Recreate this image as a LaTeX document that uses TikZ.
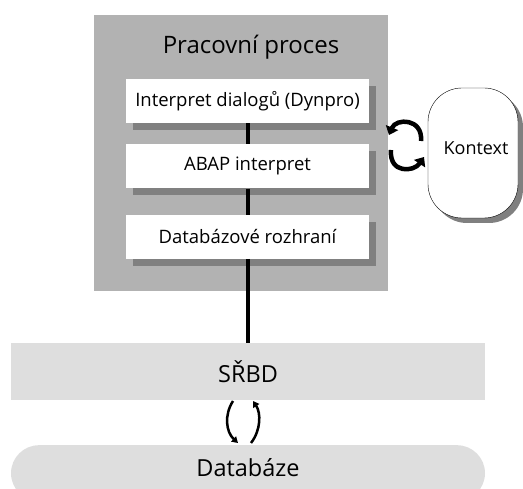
\documentclass[tikz,border=0pt]{standalone}
\usepackage{fontspec}
\setmainfont{Open Sans}
\usetikzlibrary{positioning,arrows.meta,shadows}
\definecolor{procgray}{HTML}{B2B2B2}
\definecolor{shadegray}{HTML}{808080}
\definecolor{bandgray}{HTML}{DEDEDE}

\begin{document}
\begin{tikzpicture}[x=1pt, y=-1pt,
    box/.style = {fill=white, minimum width=243pt, minimum height=44pt, font=\fontsize{18.5}{21}\selectfont,
                  general shadow={fill=shadegray, shadow xshift=7pt, shadow yshift=-7pt}},
    band/.style = {fill=bandgray, minimum width=474pt, font=\fontsize{23.5}{27}\selectfont},
    link/.style = {line width=4pt},
    cyc/.style = {line width=4.5pt, ->},
    dbcyc/.style = {line width=2.5pt, -{Triangle[width=7pt,length=6pt]}},
    > = {Triangle[width=13pt,length=8pt]}
]
\useasboundingbox (0,0) rectangle (523,489);
\clip (0,0) rectangle (523,489);

\node (proc) [fill=procgray, minimum width=294pt, minimum height=276pt] at (241,153) {};
\node (title) [font=\fontsize{24}{27}\selectfont] at (251,47) {Pracovní proces};
\node (dialog) [box] at (247.5,101) {Interpret dialogů (Dynpro)};
\node (abap) [box, below=21pt of dialog] {ABAP interpret};
\node (dbif) [box, below=26pt of abap] {Databázové rozhraní};

\node (ctx) [draw, fill=white, minimum width=90pt, minimum height=130pt, rounded corners=34pt,
             general shadow={fill=shadegray, shadow xshift=5pt, shadow yshift=-5pt}] at (473,153) {};
\node (ctxlabel) [font=\fontsize{18}{21}\selectfont] at (476,148) {Kontext};

\node (dbms) [band, minimum height=57pt] at (248,371.5) {SŘBD};
\node (db) [band, minimum height=56pt, rounded corners=28pt, anchor=north] at (248,445) {};
\node (dblabel) [font=\fontsize{23.5}{27}\selectfont] at (248,468) {Databáze};

\draw[link] (dialog) -- (abap);
\draw[link] (abap) -- (dbif);
\draw[link] (dbif.south) -- (dbif.south |- dbms.north);

% cyklus proces <-> kontext
\coordinate (ctxA) at (421,141);
\coordinate (procA) at (389,135);
\coordinate (procB) at (391,150);
\coordinate (ctxB) at (424,157);
\draw[cyc] (ctxA) .. controls (423,118) and (396,118) .. (procA);
\draw[cyc] (procB) .. controls (389,174) and (414,172) .. (ctxB);

% cyklus SRBD <-> databaze
\coordinate (dbmsA) at (233,401);
\coordinate (dbA) at (238,443);
\coordinate (dbB) at (251,443);
\coordinate (dbmsB) at (253,401);
\draw[dbcyc] (dbmsA) .. controls (224,415) and (226,432) .. (dbA);
\draw[dbcyc] (dbB) .. controls (261,430) and (261,413) .. (dbmsB);
\end{tikzpicture}
\end{document}
